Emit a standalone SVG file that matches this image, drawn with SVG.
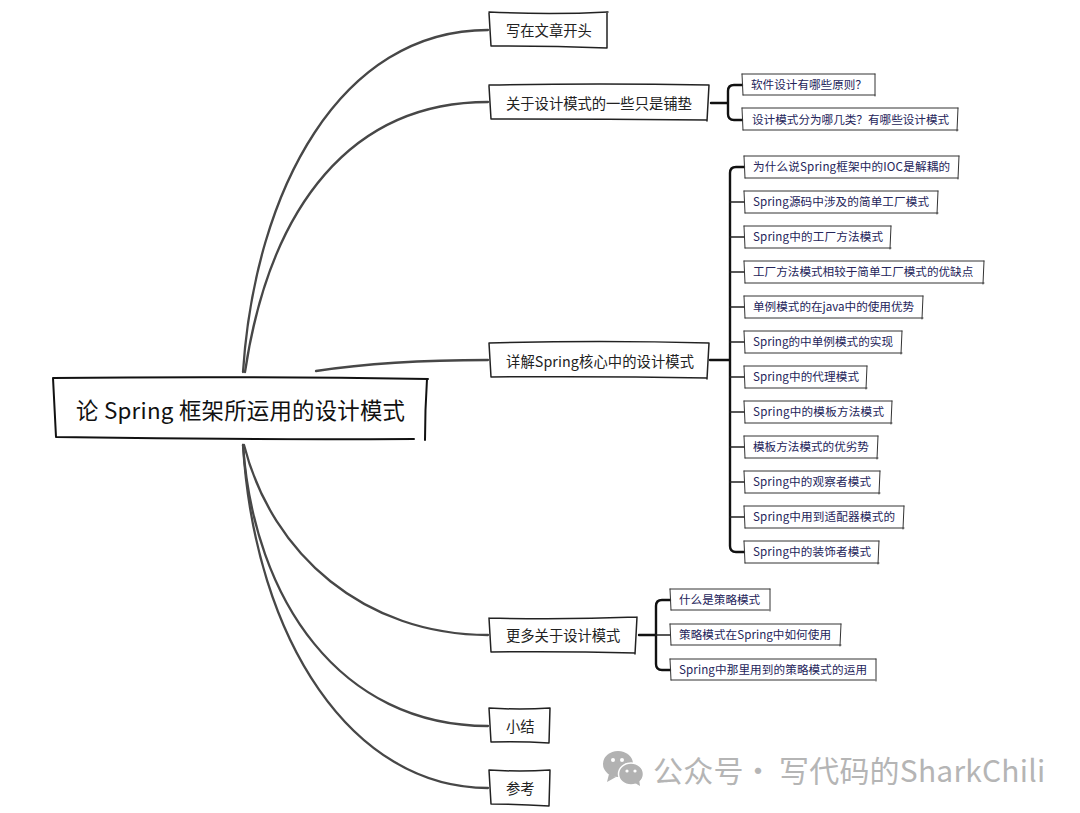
<svg xmlns="http://www.w3.org/2000/svg" width="1080" height="813" viewBox="0 0 1080 813">
<style>
text{font-family:"Noto Sans CJK SC","Microsoft YaHei","Noto Sans",sans-serif;dominant-baseline:central}
.rb{fill:none;stroke:#111;stroke-width:2;stroke-linecap:round}
.bb{fill:none;stroke:#222;stroke-width:1.5;stroke-linecap:round}
.s{fill:none;stroke:#333;stroke-width:1;stroke-linecap:round}
.c{fill:none;stroke:#474747;stroke-width:2.3;stroke-linecap:round}
.k{fill:none;stroke:#111;stroke-width:2.4;stroke-linecap:round}
.k2{fill:none;stroke:#222;stroke-width:1.6;stroke-linecap:round}
.t0{font-size:22.4px;fill:#111}
.t1{font-size:14.3px;fill:#222}
.t2{font-size:11.6px;fill:#24245a}
.wm{font-size:30px;fill:#b5b5b5;letter-spacing:.2px}
.wd{word-spacing:-6.9px}
.ic{fill:#b2b2b2}
.ie{fill:#fff}
</style>
<g id="connectors">
<path class="c" d="M243 372C255 190 340 30 488 30"/>
<path class="c" d="M245 372C270 205 352 102 488 102"/>
<path class="c" d="M316 371C375 362 430 360 488 360"/>
<path class="c" d="M244 445C272 555 365 635 488 635"/>
<path class="c" d="M243 445C254 600 340 726 488 726"/>
<path class="c" d="M243 445C255 640 352 788 488 788"/>
<path class="k" d="M711 103H728M742 85H734Q728 85 728 91V114Q728 120 734 120H742"/>
<path class="k" d="M710 360H730M744 167H736Q730 167 730 173V546Q730 552 736 552H744"/>
<path class="k2" d="M730 202H744M730 237H744M730 272H744M730 307H744M730 342H744M730 377H744M730 412H744M730 447H744M730 482H744M730 517H744"/>
<path class="k" d="M639 635H656M670 600H662Q656 600 656 606V664Q656 670 662 670H670"/>
<path class="k2" d="M656 635H670"/>
</g>
<g id="root"><path class="rb" d="M53 378Q240 376 428 379M53 378L56 437M56 437Q240 440 414 439M427 379Q425 410 425 440"/><text class="t0" x="76" y="409" textLength="329">论 Spring 框架所运用的设计模式</text></g>
<g id="n1"><path class="bb" d="M489 12Q550 15 608 12M489 13L491 46M491 46Q550 46 607 48M607 12L607 48"/><text class="t1" x="506" y="29">写在文章开头</text></g>
<g id="n2"><path class="bb" d="M489 85Q600 83 709 85M489 86L491 119M491 119Q600 119 707 120M709 85L707 121"/><text class="t1" x="506" y="102">关于设计模式的一些只是铺垫</text></g>
<g id="n3"><path class="bb" d="M489 343Q600 340 709 343M489 343L491 377M491 377Q600 376 707 378M709 343L707 379"/><text class="t1" x="506" y="360" textLength="188">详解Spring核心中的设计模式</text></g>
<g id="n4"><path class="bb" d="M489 618Q560 620 637 617M489 618L491 652M491 652Q560 651 635 653M637 617L635 654"/><text class="t1" x="506" y="634">更多关于设计模式</text></g>
<g id="n5"><path class="bb" d="M489 708Q520 710 550 708M489 708L491 742M491 742Q520 741 549 743M550 708L549 743"/><text class="t1" x="506" y="725">小结</text></g>
<g id="n6"><path class="bb" d="M489 770Q520 772 550 770M489 770L491 804M491 804Q520 804 549 806M550 770L549 806"/><text class="t1" x="506" y="787">参考</text></g>
<g id="n2-1"><path class="s" d="M742 74H875M742 74L743 95M743 95H875M875 74V96"/><text class="t2" x="751" y="84">软件设计有哪些原则&#xFF1F;</text></g>
<g id="n2-2"><path class="s" d="M742 108H958M742 108L743 130M743 130H958M958 108L957 131"/><text class="t2" x="752" y="119">设计模式分为哪几类&#xFF1F;有哪些设计模式</text></g>
<g id="n3-1"><path class="s" d="M744 156H959M744 156L745 178M745 178H958M959 156L958 179"/><text class="t2" x="753" y="166" textLength="197">为什么说Spring框架中的IOC是解耦的</text></g>
<g id="n3-2"><path class="s" d="M744 191H938M744 191L745 213M745 213H938M938 191L937 214"/><text class="t2" x="753" y="201" textLength="176">Spring源码中涉及的简单工厂模式</text></g>
<g id="n3-3"><path class="s" d="M744 226H891M744 226L745 248M745 248H891M891 226L890 249"/><text class="t2" x="753" y="236" textLength="130">Spring中的工厂方法模式</text></g>
<g id="n3-4"><path class="s" d="M744 261H984M744 261L745 283M745 283H984M984 261L983 284"/><text class="t2" x="753" y="271">工厂方法模式相较于简单工厂模式的优缺点</text></g>
<g id="n3-5"><path class="s" d="M744 296H923M744 296L745 318M745 318H923M923 296L922 319"/><text class="t2" x="753" y="306">单例模式的在java中的使用优势</text></g>
<g id="n3-6"><path class="s" d="M744 331H902M744 331L745 353M745 353H902M902 331L901 354"/><text class="t2" x="753" y="341" textLength="140">Spring的中单例模式的实现</text></g>
<g id="n3-7"><path class="s" d="M744 366H867M744 366L745 388M745 388H867M867 366L866 389"/><text class="t2" x="753" y="376" textLength="106">Spring中的代理模式</text></g>
<g id="n3-8"><path class="s" d="M744 401H892M744 401L745 423M745 423H892M892 401L891 424"/><text class="t2" x="753" y="411" textLength="131">Spring中的模板方法模式</text></g>
<g id="n3-9"><path class="s" d="M744 436H878M744 436L745 458M745 458H878M878 436L877 459"/><text class="t2" x="753" y="446">模板方法模式的优劣势</text></g>
<g id="n3-10"><path class="s" d="M744 471H880M744 471L745 493M745 493H880M880 471L879 494"/><text class="t2" x="753" y="481" textLength="118">Spring中的观察者模式</text></g>
<g id="n3-11"><path class="s" d="M744 506H904M744 506L745 528M745 528H904M904 506L903 529"/><text class="t2" x="753" y="516" textLength="142">Spring中用到适配器模式的</text></g>
<g id="n3-12"><path class="s" d="M744 541H879M744 541L745 563M745 563H879M879 541L878 564"/><text class="t2" x="753" y="551" textLength="118">Spring中的装饰者模式</text></g>
<g id="n4-1"><path class="s" d="M670 589H770M670 589L671 610M671 610H769M770 589V611"/><text class="t2" x="679" y="599">什么是策略模式</text></g>
<g id="n4-2"><path class="s" d="M670 624H841M670 624L671 645M671 645H841M841 624L840 646"/><text class="t2" x="679" y="634" textLength="152">策略模式在Spring中如何使用</text></g>
<g id="n4-3"><path class="s" d="M670 659H876M670 659L671 680M671 680H875M876 659V681"/><text class="t2" x="679" y="669" textLength="188">Spring中那里用到的策略模式的运用</text></g>
<g id="watermark">
<ellipse class="ic" cx="618" cy="764" rx="15" ry="13"/><path class="ic" d="M609 774L607 782 616 777Z"/>
<ellipse class="ic" cx="631" cy="774" rx="12.5" ry="11" stroke="#fff" stroke-width="1.5"/><path class="ic" d="M635 783L640 786 639 779Z"/>
<circle class="ie" cx="613" cy="760" r="2"/><circle class="ie" cx="622" cy="760" r="2"/><circle class="ie" cx="627" cy="771" r="1.6"/><circle class="ie" cx="635" cy="771" r="1.6"/>
<text class="wm" y="769"><tspan x="653">公众号</tspan><tspan class="wd" x="743"> · </tspan><tspan x="779">写代码的SharkChili</tspan></text>
</g>
</svg>
